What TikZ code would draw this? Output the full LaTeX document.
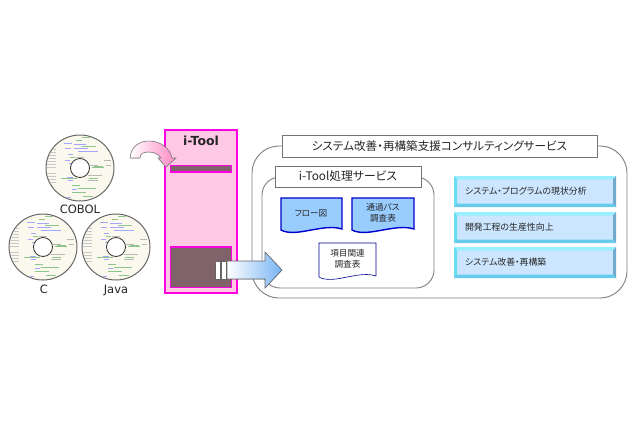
\documentclass[tikz,border=0pt]{standalone}
\usepackage{fontspec}
\setmainfont{DejaVu Sans}
\newfontfamily\cjk[RawFeature=+palt]{Noto Sans CJK JP}
\usetikzlibrary{shapes.geometric}
\definecolor{toolpink}{HTML}{FFC8E4}
\definecolor{toolline}{HTML}{FF00E0}
\definecolor{toolgrey}{HTML}{7F626A}
\definecolor{docblue}{HTML}{99CCFF}
\definecolor{docline}{HTML}{0000CC}
\definecolor{btnface}{HTML}{CCE6FF}
\definecolor{btntop}{HTML}{99EEFF}
\definecolor{btnleft}{HTML}{66DDF0}
\definecolor{btnright}{HTML}{70AACC}
\definecolor{btnbottom}{HTML}{66CCEE}
\definecolor{diskface}{HTML}{FBF9EE}
\definecolor{arrowpink}{HTML}{FF88C4}
\definecolor{arrowblue}{HTML}{78B4F4}
\tikzset{>=latex,x=1pt,y=-1pt,
  every node/.style={inner sep=0pt,outer sep=0pt},
  label/.style={anchor=base,font=\fontsize{11.5}{13}\selectfont,text=black!85},
  frame/.style={draw=black!50,line width=.9pt,fill=white},
  titlebox/.style={draw=black!55,line width=.9pt,fill=white,text=black!85},
  toolbox/.style={draw=toolline,line width=1.8pt},
  doctext/.style={align=center,font=\cjk\fontsize{8.6}{11}\selectfont,text=black!85},
  btntext/.style={anchor=west,font=\cjk\fontsize{8.9}{10}\selectfont,text=black!85},
  disktick/.style={line width=.5pt}
}
% x,y of the hub
\newcommand{\disk}[3]{
  \begin{scope}[shift={(#2,#3)}]
    \draw[fill=diskface,draw=black!60,line width=1pt] (0,0) ellipse (34 and 33);
    \begin{scope}
      \clip (0,0) ellipse (33 and 32);
      \foreach \r in {-19,-16,-13,-10,-7,-4,-1,5,8,11,14} {
        \draw[disktick,black!22] (-33,\r) -- +(9,0);
      }
      \foreach \a/\b/\w in {-16/-25/8,-6/-24/12,-6/-20/14,-15/-20/6,-2/-17/20,-12/-14/5,-15/-8/5,-11/-5/4,-10/-2/6,-13/9/6,-12/12/5,-8/21/5,-15/29/6} {
        \draw[disktick,blue!35!white] (\a,\b) -- +(\w,0);
      }
      \foreach \a/\b/\w in {2/-31/10,-4/-28/6,2/-22/14,-10/-11/5,-19/10/16,-8/17/8,-8/24/14,-2/20/18,3/28/10,9/10/9,12/-1/12,14/-2/9} {
        \draw[disktick,green!50!black!45] (\a,\b) -- +(\w,0);
      }
      \foreach \a/\b/\w in {-4/-11/8,10/-3/8,24/-8/7,26/-3/5,8/7/14,8/12/10} {
        \draw[disktick,black!28] (\a,\b) -- +(\w,0);
      }
    \end{scope}
    \draw[fill=white,draw=black!80,line width=.8pt] (0,0) circle (9.5);
    \coordinate (#1) at (0,0);
  \end{scope}
}
% left, top, right, bottom
\newcommand{\docshape}[5]{
  \draw[#5] (#1,#2) -- (#3,#2) -- (#3,#4-3)
    .. controls ({#3-.2*(#3-#1)},#4-7) and ({#1+.55*(#3-#1)},#4-2) .. ({#1+.3*(#3-#1)},#4)
    .. controls ({#1+.15*(#3-#1)},#4+1) and ({#1+.05*(#3-#1)},#4) .. (#1,#4-2) -- cycle;
}
\begin{document}
\begin{tikzpicture}
  \useasboundingbox[fill=white] (0,0) rectangle (640,426);

  % disks
  \disk{diskcobol}{80}{168}
  \disk{diskc}{43}{247}
  \disk{diskjava}{116}{247}
  \node[label] (cobol) at (80,213) {COBOL};
  \node[label] (c) at (44,293) {C};
  \node[label] (java) at (116,293) {Java};

  % i-Tool column
  \draw[toolbox,fill=toolpink] (165,130) rectangle (237,293);
  \node[font=\bfseries\fontsize{12.5}{14}\selectfont,text=black!85] (tool) at (201,141) {i-Tool};
  \draw[toolbox,fill=toolgrey] (170.5,165.5) rectangle (231.5,172);
  \draw[toolbox,fill=toolgrey] (170.5,247) rectangle (231.5,287.5);

  % curved arrow
  \fill[draw=black!50,line width=.6pt,left color=white,right color=arrowpink]
    (130,158) .. controls (131,146) and (140,141) .. (149,141)
    .. controls (160,141) and (170,148) .. (172,158) -- (176,158) -- (166,167)
    -- (158,158) -- (161,158) .. controls (158,153) and (152,152) .. (148,152)
    .. controls (143,152) and (140,154) .. (140,158) -- cycle;

  % services
  \draw[frame,rounded corners=27] (252,146) rectangle (627,298);
  \node[titlebox,minimum width=315,minimum height=22,font=\cjk\fontsize{11.6}{13}\selectfont] (svc) at (439.5,146) {システム改善・再構築支援コンサルティングサービス};
  \draw[frame,rounded corners=18] (262,177) rectangle (434,288);
  \node[titlebox,minimum width=146,minimum height=21,font=\cjk\fontsize{11.8}{13}\selectfont] (proc) at (348,176.5) {i-Tool処理サービス};

  % documents
  \docshape{281}{198}{342}{232}{draw=docline,line width=1.4pt,fill=docblue}
  \docshape{352}{198}{414}{232}{draw=docline,line width=1.4pt,fill=docblue}
  \docshape{319}{243}{376}{279}{draw=docline!70!black,line width=.6pt,fill=white}
  \node[doctext] (flow) at (311,213) {フロー図};
  \node[doctext] (pass) at (383,213) {通過パス\\調査表};
  \node[doctext] (item) at (347.5,258.5) {項目関連\\調査表};

  % buttons
  \foreach \y/\t/\n in {176/システム・プログラムの現状分析/a,212/開発工程の生産性向上/b,247/システム改善・再構築/c} {
    \fill[btnface] (454,\y) rectangle (616,\y+31);
    \fill[btntop] (454,\y) -- (616,\y) -- (613,\y+3.5) -- (457,\y+3.5) -- cycle;
    \fill[btnleft] (454,\y) -- (457,\y+3.5) -- (457,\y+27.5) -- (454,\y+31) -- cycle;
    \fill[btnright] (616,\y) -- (613,\y+3.5) -- (613,\y+27.5) -- (616,\y+31) -- cycle;
    \fill[btnbottom] (454,\y+31) -- (457,\y+27.5) -- (613,\y+27.5) -- (616,\y+31) -- cycle;
    \node[btntext] (btn\n) at (465,\y+15.5) {\t};
  }

  % big arrow
  \draw[fill=white,draw=black!60,line width=.6pt] (215,261) rectangle (220,279);
  \draw[fill=white,draw=black!60,line width=.6pt] (221,261) rectangle (226,279);
  \fill[draw=black!60,line width=.6pt,left color=white,right color=arrowblue]
    (227,261) -- (265,261) -- (265,252) -- (282,270) -- (265,288) -- (265,279) -- (227,279) -- cycle;
\end{tikzpicture}
\end{document}
